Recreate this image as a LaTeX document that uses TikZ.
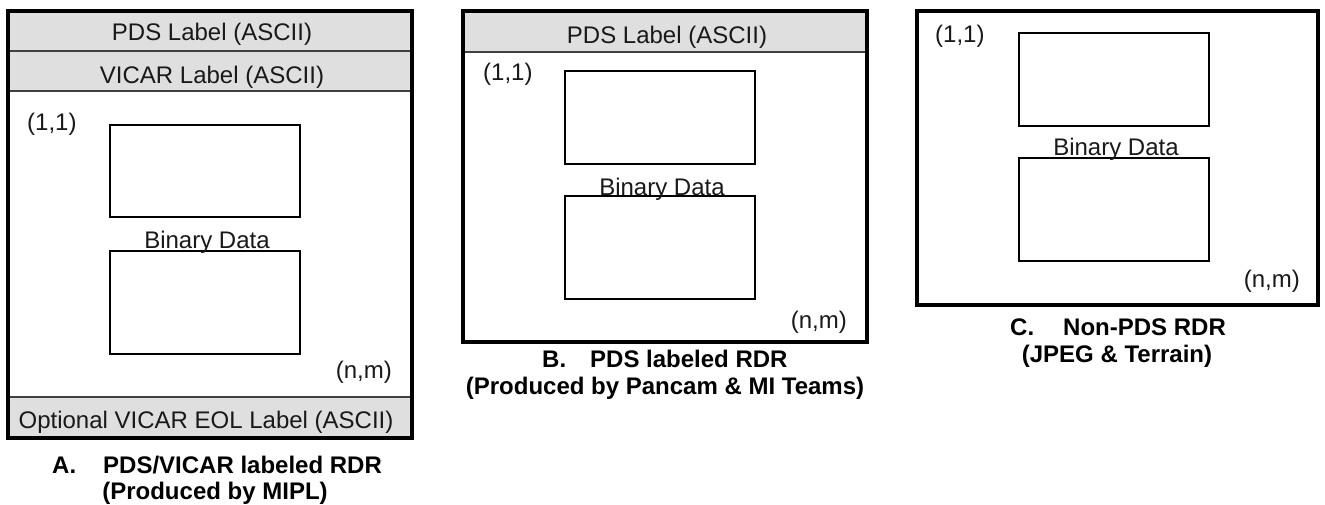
\documentclass[tikz,border=0pt]{standalone}
\usepackage{fontspec}
\setmainfont{Liberation Sans}
\definecolor{bandgray}{RGB}{223,223,223}
\definecolor{txtcol}{RGB}{25,25,25}
\tikzset{
  outerbox/.style={line width=4pt, draw=black},
  bandbox/.style={fill=bandgray, draw=black!75, line width=1.3pt},
  inrect/.style={draw=black, line width=2.2pt},
  txt/.style={inner sep=0pt, text=txtcol, font=\fontsize{24}{28}\selectfont},
  capt/.style={inner sep=0pt, text=black, font=\fontsize{24}{28}\selectfont\bfseries},
}
\begin{document}
\begin{tikzpicture}[x=1pt,y=-1pt]
\useasboundingbox[fill=white] (0,0) rectangle (1325,504);

% ---------------- Panel A ----------------
\draw[bandbox] (8,11) rectangle (412,51);
\draw[bandbox] (8,51) rectangle (412,91);
\draw[bandbox] (8,397) rectangle (412,438);
\draw[inrect] (110,125) rectangle (300,217);
\draw[inrect] (110,251) rectangle (300,354);
\draw[outerbox] (8,11) rectangle (412,438);
\node[txt, anchor=base] (apds) at (212,40) {PDS Label (ASCII)};
\node[txt, anchor=base] (avic) at (212,83) {VICAR Label (ASCII)};
\node[txt, anchor=base] (aeol) at (206,428) {Optional VICAR EOL Label (ASCII)};
\node[txt, anchor=base west] (a11) at (27,130) {(1,1)};
\node[txt, anchor=base] (abin) at (207,248) {Binary Data};
\node[txt, anchor=base east] (anm) at (392,378) {(n,m)};
\node[capt, anchor=base west] (acap1) at (52,473) {A.\hspace{27pt}PDS/VICAR labeled RDR};
\node[capt, anchor=base] (acap2) at (215,499) {(Produced by MIPL)};

% ---------------- Panel B ----------------
\draw[bandbox] (463,11) rectangle (867,52);
\draw[inrect] (565,71) rectangle (755,164);
\draw[inrect] (565,196) rectangle (755,299);
\draw[outerbox] (463,11) rectangle (867,342);
\node[txt, anchor=base] (bpds) at (667,43) {PDS Label (ASCII)};
\node[txt, anchor=base west] (b11) at (483,80) {(1,1)};
\node[txt, anchor=base] (bbin) at (662,195) {Binary Data};
\node[txt, anchor=base east] (bnm) at (847,328) {(n,m)};
\node[capt, anchor=base west] (bcap1) at (542,367) {B.\hspace{24pt}PDS labeled RDR};
\node[capt, anchor=base] (bcap2) at (665,394) {(Produced by Pancam \& MI Teams)};

% ---------------- Panel C ----------------
\draw[inrect] (1019,33) rectangle (1209,126);
\draw[inrect] (1019,158) rectangle (1209,261);
\draw[outerbox] (917,11) rectangle (1318,305);
\node[txt, anchor=base west] (c11) at (935,42) {(1,1)};
\node[txt, anchor=base] (cbin) at (1116,155) {Binary Data};
\node[txt, anchor=base east] (cnm) at (1300,287) {(n,m)};
\node[capt, anchor=base west] (ccap1) at (1010,335) {C.\hspace{29pt}Non-PDS RDR};
\node[capt, anchor=base] (ccap2) at (1117,362) {(JPEG \& Terrain)};
\end{tikzpicture}
\end{document}
